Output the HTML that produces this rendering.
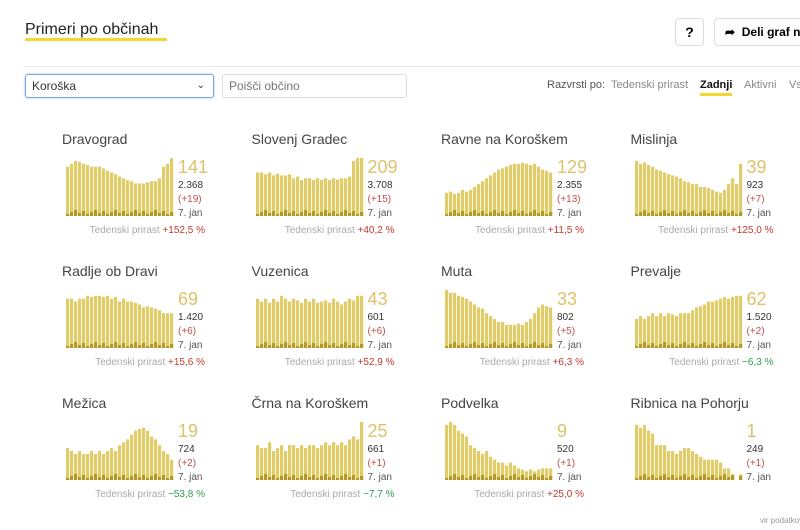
<!DOCTYPE html>
<html><head><meta charset="utf-8">
<style>
body{margin:0;width:800px;height:530px;overflow:hidden;background:#fff;font-family:"Liberation Sans",sans-serif;position:relative}
.a{position:absolute;white-space:nowrap}
</style></head><body>
<div class="a" style="left:25px;top:21px;font-size:16px;color:#222">Primeri po občinah</div>
<div class="a" style="left:25px;top:38px;width:142px;height:3px;background:#f5d630"></div>
<div class="a" style="left:675px;top:18px;width:27px;height:26px;border:1px solid #ddd;border-radius:4px;font-size:14px;font-weight:bold;text-align:center;line-height:26px">?</div>
<div class="a" style="left:714px;top:18px;width:100px;height:26px;border:1px solid #ddd;border-radius:4px;font-size:12px;font-weight:bold;line-height:26px;padding-left:10px">➦&nbsp; Deli graf na</div>
<div class="a" style="left:25px;top:66px;width:780px;height:1px;background:#e5e5e5"></div>
<div class="a" style="left:25px;top:74px;width:181px;height:22px;border:1px solid #7aa7e0;border-radius:3px;box-shadow:0 0 2px #9cc0ef;font-size:12px;line-height:22px;padding-left:6px;color:#333">Koroška<span style="position:absolute;right:8px;font-size:10px">⌄</span></div>
<div class="a" style="left:222px;top:74px;width:177px;height:22px;border:1px solid #ddd;border-radius:3px;font-size:12px;line-height:22px;padding-left:6px;color:#777">Poišči občino</div>
<div class="a" style="left:547px;top:79px;font-size:11px;color:#555">Razvrsti po:</div>
<div class="a" style="left:611px;top:79px;font-size:11px;color:#888">Tedenski prirast</div>
<div class="a" style="left:700px;top:79px;font-size:11px;color:#111;font-weight:bold">Zadnji</div>
<div class="a" style="left:700px;top:93px;width:32px;height:3px;background:#f5d630"></div>
<div class="a" style="left:744px;top:79px;font-size:11px;color:#888">Aktivni</div>
<div class="a" style="left:789px;top:79px;font-size:11px;color:#888">Vs</div>
<div class="a" style="left:760px;top:516px;font-size:8px;color:#999">vir podatkov: NIJZ</div>
<div id="c"></div>
<script>
const D=[
["Dravograd","141","2.368","(+19)","+152,5 %",1,[.85,.9,.95,.93,.9,.88,.85,.85,.85,.82,.78,.75,.72,.68,.65,.62,.6,.56,.56,.56,.58,.6,.6,.65,.85,.9,1]],
["Slovenj Gradec","209","3.708","(+15)","+40,2 %",1,[.75,.75,.72,.75,.7,.73,.7,.7,.72,.65,.68,.62,.65,.65,.62,.65,.62,.65,.62,.65,.63,.65,.65,.68,.95,1,1]],
["Ravne na Koroškem","129","2.355","(+13)","+11,5 %",1,[.4,.42,.38,.4,.45,.42,.45,.5,.55,.6,.65,.7,.75,.8,.82,.85,.88,.9,.9,.92,.9,.88,.9,.85,.8,.78,.75]],
["Mislinja","39","923","(+7)","+125,0 %",1,[.95,.9,.92,.88,.85,.8,.78,.75,.72,.7,.68,.65,.6,.58,.55,.55,.5,.5,.48,.45,.42,.4,.45,.55,.65,.55,.9]],
["Radlje ob Dravi","69","1.420","(+6)","+15,6 %",1,[.85,.85,.8,.85,.85,.9,.88,.9,.9,.88,.9,.85,.88,.8,.85,.8,.8,.78,.75,.7,.72,.7,.68,.65,.6,.6,.6]],
["Vuzenica","43","601","(+6)","+52,9 %",1,[.85,.8,.85,.78,.85,.8,.9,.85,.8,.85,.82,.78,.85,.8,.85,.78,.8,.82,.78,.85,.8,.75,.8,.85,.82,.9,.9]],
["Muta","33","802","(+5)","+6,3 %",1,[1,.95,.95,.9,.88,.85,.8,.75,.7,.68,.6,.55,.5,.45,.45,.4,.4,.4,.42,.4,.45,.5,.6,.7,.75,.72,.7]],
["Prevalje","62","1.520","(+2)","−6,3 %",0,[.5,.55,.5,.55,.6,.55,.6,.55,.6,.58,.55,.6,.6,.6,.65,.7,.72,.75,.8,.8,.82,.85,.88,.85,.88,.9,.9]],
["Mežica","19","724","(+2)","−53,8 %",0,[.55,.5,.45,.5,.45,.45,.5,.45,.5,.45,.5,.55,.5,.6,.65,.7,.78,.85,.88,.9,.85,.75,.7,.6,.5,.45,.35]],
["Črna na Koroškem","25","661","(+1)","−7,7 %",0,[.6,.55,.55,.65,.5,.55,.6,.5,.6,.6,.55,.6,.55,.6,.6,.55,.6,.65,.6,.65,.6,.65,.6,.7,.75,.7,1]],
["Podvelka","9","520","(+1)","+25,0 %",1,[.95,1,.95,.85,.8,.75,.6,.55,.5,.45,.5,.4,.35,.3,.3,.25,.3,.25,.2,.18,.15,.18,.15,.18,.2,.2,.2]],
["Ribnica na Pohorju","1","249","(+1)","",1,[.95,.9,.95,.85,.8,.6,.6,.6,.5,.5,.45,.5,.55,.55,.5,.45,.4,.35,.35,.35,.35,.3,.2,.2,.1,0,.1]]];
let h="";
D.forEach((d,i)=>{const cx=62+(i%4)*189.5,ry=Math.floor(i/4)*132;
h+=`<div class="a" style="left:${cx}px;top:${131+ry}px;font-size:14px;color:#444">${d[0]}</div>`;
let s=`<svg class="a" style="left:${cx+4}px;top:${156+ry}px" width="110" height="61">`;
d[6].forEach((v,j)=>{const H=v*58,x=j*4;s+=`<rect x="${x}" y="${60-H}" width="3.2" height="${H}" fill="#e0cc68"/>`;
const dh=(j*7%5)+2;if(v>0)s+=`<rect x="${x}" y="${60-dh}" width="3.2" height="${dh}" fill="#b29a25"/>`;});
s+="</svg>";h+=s;
h+=`<div class="a" style="left:${cx+116}px;top:${157+ry}px;font-size:18px;color:#dcc36a">${d[1]}</div>`;
h+=`<div class="a" style="left:${cx+116}px;top:${180+ry}px;font-size:10px;color:#333">${d[2]}</div>`;
h+=`<div class="a" style="left:${cx+116}px;top:${194+ry}px;font-size:10px;color:#c0504d">${d[3]}</div>`;
h+=`<div class="a" style="left:${cx+116}px;top:${208+ry}px;font-size:10px;color:#555">7. jan</div>`;
if(d[4])h+=`<div class="a" style="right:${800-cx-143}px;top:${225+ry}px;font-size:10px;color:#aaa">Tedenski prirast <b style="color:${d[5]?'#c0392b':'#2e9e4f'};font-weight:normal">${d[4]}</b></div>`;
});
document.getElementById("c").innerHTML=h;
</script>
</body></html>
